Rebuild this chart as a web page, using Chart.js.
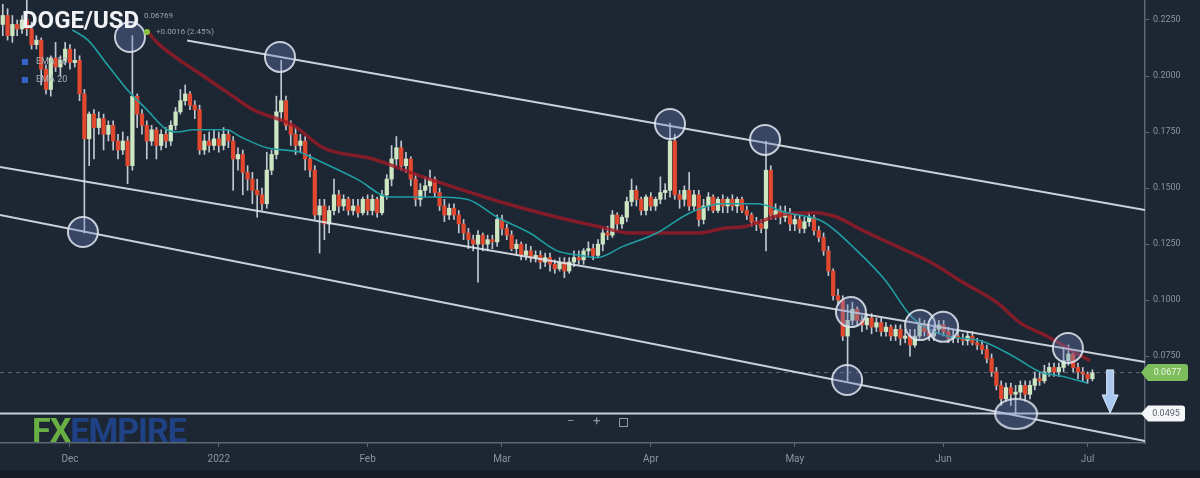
<!DOCTYPE html>
<html>
<head>
<meta charset="utf-8">
<script src="https://cdn.jsdelivr.net/npm/chart.js@4.4.1/dist/chart.umd.min.js"></script>
<style>
html,body{margin:0;padding:0;background:#1d2633;}
#wrap{position:relative;width:1200px;height:478px;overflow:hidden;font-family:Roboto,"Open Sans",sans-serif;}
#chart{position:absolute;left:0;top:0;}
.t{position:absolute;white-space:nowrap;}
</style>
</head>
<body>
<div id="wrap">
  <canvas id="chart" width="1200" height="478"></canvas>
  <div class="t" style="left:22px;top:6px;font-size:24px;font-weight:700;color:#f1f3f6;line-height:28px;">DOGE/USD</div>
  <div class="t" style="left:144px;top:11px;font-size:8px;color:#9aa4ae;">0.06769</div>
  <div class="t" style="left:144px;top:29px;width:6px;height:6px;border-radius:3px;background:#8cc43f;"></div>
  <div class="t" style="left:156px;top:27px;font-size:8px;color:#9aa4ae;">+0.0016 (2.45%)</div>
  <div class="t" style="left:22px;top:59px;width:6px;height:6px;background:#3563c9;"></div>
  <div class="t" style="left:36px;top:56px;font-size:9px;color:#aab2bb;">EMA 50</div>
  <div class="t" style="left:22px;top:77px;width:6px;height:6px;background:#3563c9;"></div>
  <div class="t" style="left:36px;top:74px;font-size:9px;color:#aab2bb;">EMA 20</div>
  <div class="t" style="left:32px;top:412px;font-size:34px;font-weight:700;line-height:36px;letter-spacing:-1px;opacity:0.9;"><span style="color:#72bf46;">FX</span><span style="color:#21468f;">EMPIRE</span></div>
  <div class="t" style="left:567px;top:413px;font-size:13px;color:#8e98a3;">&minus;</div>
  <div class="t" style="left:593px;top:413px;font-size:13px;color:#8e98a3;">+</div>
  <div class="t" style="left:619px;top:418px;width:7px;height:7px;border:1px solid #8e98a3;"></div>
</div>
<script>
// day 0 = 16 Nov 2021, one candle per day up to 2 Jul 2022
const monthLabels = ['Dec', '2022', 'Feb', 'Mar', 'Apr', 'May', 'Jun', 'Jul'];
const monthDays = [15, 46, 77, 105, 136, 166, 197, 227];
const priceTicks = [0.075, 0.1, 0.125, 0.15, 0.175, 0.2, 0.225];

const opens = [
  .229,.223,.227,.218,.223,.221,.225,.221,.214,.216,
  .203,.194,.208,.204,.207,.212,.206,.207,.192,.172,
  .183,.177,.181,.174,.178,.171,.167,.171,.160,.191,
  .183,.178,.171,.176,.169,.174,.171,.178,.184,.189,
  .192,.187,.185,.167,.171,.169,.172,.169,.174,.171,
  .163,.165,.157,.154,.149,.147,.143,.158,.165,.184,
  .189,.178,.174,.169,.171,.163,.158,.138,.142,.134,
  .140,.147,.142,.145,.140,.142,.139,.145,.140,.145,
  .139,.147,.154,.163,.168,.160,.163,.154,.145,.149,
  .151,.154,.148,.142,.138,.141,.138,.134,.130,.127,
  .125,.129,.125,.127,.126,.136,.132,.129,.123,.125,
  .120,.122,.119,.120,.117,.119,.116,.114,.117,.113,
  .117,.119,.118,.122,.123,.120,.125,.130,.129,.138,
  .134,.137,.144,.149,.145,.140,.146,.142,.145,.148,
  .149,.171,.147,.145,.149,.142,.147,.136,.142,.146,
  .140,.145,.142,.145,.142,.145,.140,.138,.135,.134,
  .132,.158,.138,.140,.137,.139,.134,.136,.132,.135,
  .137,.131,.128,.122,.113,.102,.100,.084,.091,.096,
  .091,.089,.092,.088,.090,.086,.088,.084,.087,.083,
  .084,.080,.084,.089,.086,.084,.087,.089,.086,.083,
  .084,.083,.082,.084,.081,.080,.078,.074,.068,.062,
  .056,.061,.058,.059,.062,.058,.062,.065,.064,.068,
  .070,.068,.070,.073,.076,.070,.068,.067,.065
];
const highs = [
  .234,.232,.230,.227,.225,.227,.234,.224,.218,.217,
  .205,.209,.215,.209,.215,.214,.212,.209,.194,.184,
  .185,.184,.183,.180,.180,.174,.175,.173,.218,.192,
  .185,.180,.178,.177,.176,.177,.180,.186,.194,.196,
  .193,.189,.187,.174,.175,.176,.175,.177,.176,.173,
  .168,.167,.160,.157,.154,.150,.166,.167,.191,.207,
  .191,.180,.177,.174,.173,.165,.160,.145,.145,.142,
  .154,.149,.147,.146,.145,.145,.146,.147,.147,.146,
  .149,.156,.169,.173,.171,.166,.164,.156,.152,.155,
  .158,.155,.150,.145,.143,.143,.140,.136,.132,.129,
  .131,.130,.129,.129,.138,.138,.134,.131,.127,.126,
  .125,.124,.122,.122,.121,.121,.118,.119,.119,.119,
  .122,.122,.123,.126,.125,.127,.132,.133,.140,.139,
  .138,.146,.154,.151,.146,.147,.148,.146,.155,.152,
  .179,.174,.149,.151,.157,.149,.149,.145,.148,.147,
  .146,.147,.146,.147,.146,.146,.142,.139,.137,.136,
  .171,.160,.143,.142,.142,.141,.138,.138,.137,.139,
  .138,.133,.130,.124,.114,.105,.102,.098,.099,.097,
  .093,.094,.094,.092,.092,.090,.089,.089,.089,.087,
  .087,.087,.092,.091,.088,.089,.091,.091,.088,.087,
  .087,.085,.086,.086,.083,.082,.080,.076,.070,.064,
  .063,.063,.062,.064,.064,.064,.068,.068,.071,.072,
  .072,.072,.079,.080,.077,.072,.070,.068,.069
];
const lows = [
  .218,.218,.216,.215,.218,.219,.218,.212,.212,.196,
  .192,.191,.202,.200,.205,.203,.204,.189,.130,.160,
  .163,.174,.167,.171,.167,.163,.165,.152,.158,.177,
  .174,.163,.169,.163,.167,.168,.169,.176,.183,.187,
  .185,.181,.165,.165,.166,.167,.166,.167,.168,.149,
  .158,.147,.149,.143,.137,.140,.141,.156,.163,.180,
  .176,.169,.165,.166,.158,.155,.136,.121,.127,.130,
  .138,.139,.140,.138,.138,.137,.138,.138,.138,.137,
  .138,.145,.151,.160,.158,.157,.151,.142,.142,.146,
  .148,.146,.140,.135,.136,.136,.130,.127,.123,.122,
  .108,.122,.122,.123,.124,.129,.127,.122,.120,.118,
  .118,.117,.117,.114,.115,.113,.112,.113,.110,.112,
  .115,.116,.116,.120,.118,.119,.122,.127,.128,.131,
  .132,.135,.142,.142,.138,.138,.140,.140,.143,.145,
  .146,.145,.141,.142,.140,.140,.133,.134,.140,.139,
  .139,.139,.139,.140,.139,.139,.136,.133,.131,.130,
  .122,.136,.136,.134,.135,.131,.131,.130,.130,.133,
  .129,.126,.120,.111,.100,.098,.082,.064,.089,.089,
  .086,.087,.085,.086,.084,.084,.082,.082,.080,.081,
  .075,.079,.083,.084,.082,.082,.085,.084,.081,.081,
  .081,.080,.080,.080,.078,.076,.072,.066,.060,.053,
  .055,.053,.049,.056,.055,.056,.060,.062,.063,.066,
  .066,.066,.068,.071,.068,.065,.064,.063,.064
];
const closes = [
  .223,.227,.218,.223,.221,.225,.221,.214,.216,.203,
  .194,.208,.204,.207,.212,.206,.207,.192,.172,.183,
  .177,.181,.174,.178,.171,.167,.171,.160,.191,.183,
  .178,.171,.176,.169,.174,.171,.178,.184,.189,.192,
  .187,.185,.167,.171,.169,.172,.169,.174,.171,.163,
  .165,.157,.154,.149,.147,.143,.158,.165,.184,.189,
  .178,.174,.169,.171,.163,.158,.138,.142,.134,.140,
  .147,.142,.145,.140,.142,.139,.145,.140,.145,.139,
  .147,.154,.163,.168,.160,.163,.154,.145,.149,.151,
  .154,.148,.142,.138,.141,.138,.134,.130,.127,.125,
  .129,.125,.127,.126,.136,.132,.129,.123,.125,.120,
  .122,.119,.120,.117,.119,.116,.114,.117,.113,.117,
  .119,.118,.122,.123,.120,.125,.130,.129,.138,.134,
  .137,.144,.149,.145,.140,.146,.142,.145,.148,.149,
  .171,.147,.145,.149,.142,.147,.136,.142,.146,.140,
  .145,.142,.145,.142,.145,.140,.138,.135,.134,.132,
  .158,.138,.140,.137,.139,.134,.136,.132,.135,.137,
  .131,.128,.122,.113,.102,.100,.084,.091,.096,.091,
  .089,.092,.088,.090,.086,.088,.084,.087,.083,.084,
  .080,.084,.089,.086,.084,.087,.089,.086,.083,.084,
  .083,.082,.084,.081,.080,.078,.074,.068,.062,.056,
  .061,.058,.059,.062,.058,.062,.065,.064,.068,.070,
  .068,.070,.073,.076,.070,.068,.067,.065,.0677
];

// moving averages (day, price)
const fastMaDays = [15.5,18.75,22.8,26.9,31,35.2,37.3,40.6,47.7,50.4,56,62.9,65,74.8,81.7,90.6,97.7,104,110.8,116.5,121.3,124.8,130.2,137.3,144.2,151,158.1,164.4,171.9,179,184.8,190.6,197.7,204.6,211.5,217.1,221.9,226.9];
const fastMaValues = [.2205,.216,.205,.194,.185,.176,.175,.176,.176,.173,.168,.166,.164,.154,.146,.146,.145,.137,.130,.122,.120,.119,.124,.130,.139,.143,.143,.139,.135,.122,.109,.092,.084,.082,.075,.068,.066,.063];
const slowMaDays = [31.5,33.1,37.9,42.1,48.9,53.1,61.5,67.7,78.1,88.5,95.6,106,116.5,124.8,131.7,140.6,146.2,151,155.9,163,170,174.8,180.2,187.3,194.2,201,208.1,212.9,218.5,223.3,227.5];
const slowMaValues = [.219,.215,.207,.201,.191,.185,.178,.168,.163,.155,.150,.143,.137,.133,.130,.130,.130,.132,.133,.138,.139,.137,.131,.124,.117,.108,.099,.090,.084,.078,.073];

// channel lines
const upperLineDays = [39.4, 238.96];
const upperLineValues = [0.2158, 0.1402];
const middleLineDays = [0.42, 238.96];
const middleLineValues = [0.1594, 0.0724];
const lowerLineDays = [0.42, 238.96];
const lowerLineValues = [0.1380, 0.0372];

const priceNow = 0.0677;
const supportLevel = 0.0495;

// touches marked with circles
const circleDays = [27.5, 58.75, 17.7, 140, 159.8, 177.7, 192.1, 196.9, 176.9, 222.9];
const circleValues = [0.2174, 0.2085, 0.1304, 0.1786, 0.1715, 0.0947, 0.0889, 0.0881, 0.0644, 0.0787];
const lowMarkDays = [212.1];
const lowMarkValues = [0.0493];

const arrowDay = 231.7;
const arrowTop = 0.0689;
const arrowBottom = 0.0497;

const xMin = 0.42, xMax = 238.96;
const yMin = 0.0363, yMax = 0.2339;

const bull = '#cde7c2';
const bear = '#e2482e';
const isBull = i => closes[i] >= opens[i];

const pts = (days, vals) => days.map((d, i) => ({x: d, y: vals[i]}));

// ellipse marker for the june low
const ell = document.createElement('canvas');
ell.width = 46; ell.height = 34;
(function(){
  const c = ell.getContext('2d');
  c.beginPath();
  c.ellipse(23, 17, 21, 15, 0, 0, Math.PI * 2);
  c.fillStyle = 'rgba(110,130,190,0.35)';
  c.fill();
  c.lineWidth = 2;
  c.strokeStyle = 'rgba(225,232,242,0.85)';
  c.stroke();
})();

const bgPlugin = {
  id: 'bg',
  beforeDraw(chart){
    const c = chart.ctx;
    c.save();
    c.fillStyle = '#1d2633';
    c.fillRect(0, 0, chart.width, chart.height);
    c.fillStyle = '#171e28';
    c.fillRect(0, 470, chart.width, 8);
    c.restore();
  }
};

function badge(c, x, y, w, h, fill, textColor, text){
  c.beginPath();
  c.moveTo(x, y);
  c.lineTo(x + 7, y - h / 2);
  c.lineTo(x + w - 3, y - h / 2);
  c.quadraticCurveTo(x + w, y - h / 2, x + w, y - h / 2 + 3);
  c.lineTo(x + w, y + h / 2 - 3);
  c.quadraticCurveTo(x + w, y + h / 2, x + w - 3, y + h / 2);
  c.lineTo(x + 7, y + h / 2);
  c.closePath();
  c.fillStyle = fill;
  c.fill();
  c.fillStyle = textColor;
  c.font = '9px Roboto, sans-serif';
  c.textAlign = 'center';
  c.textBaseline = 'middle';
  c.fillText(text, x + w / 2 + 3, y + 0.5);
}

const markPlugin = {
  id: 'marks',
  afterDraw(chart){
    const c = chart.ctx;
    const xs = chart.scales.x, ys = chart.scales.y;
    // arrow
    const ax = xs.getPixelForValue(arrowDay);
    const at = ys.getPixelForValue(arrowTop);
    const ab = ys.getPixelForValue(arrowBottom);
    const headTop = ab - 18;
    c.save();
    c.fillStyle = '#a9c7ef';
    c.strokeStyle = '#dbe8fa';
    c.lineWidth = 1;
    c.beginPath();
    c.moveTo(ax - 3.5, at);
    c.lineTo(ax + 3.5, at);
    c.lineTo(ax + 3.5, headTop);
    c.lineTo(ax + 8, headTop);
    c.lineTo(ax, ab);
    c.lineTo(ax - 8, headTop);
    c.lineTo(ax - 3.5, headTop);
    c.closePath();
    c.fill();
    c.stroke();
    // price badges on the axis
    const right = chart.chartArea.right;
    badge(c, right - 4, ys.getPixelForValue(priceNow), 47, 17, '#7dbd5c', '#e9f5e2', priceNow.toFixed(4));
    badge(c, right - 4, ys.getPixelForValue(supportLevel), 44, 16, '#f4f6f8', '#59636e', supportLevel.toFixed(4));
    c.restore();
  }
};

const lineStyle = {type: 'line', pointRadius: 0, fill: false, borderJoinStyle: 'round'};

new Chart(document.getElementById('chart'), {
  type: 'bar',
  data: {
    datasets: [
      {
        label: 'wicks',
        data: highs.map((h, i) => ({x: i, y: [lows[i], h]})),
        backgroundColor: '#bfc8d1',
        barThickness: 1,
        grouped: false,
        order: 10
      },
      {
        label: 'bodies',
        data: opens.map((o, i) => ({x: i, y: [o, closes[i]]})),
        backgroundColor: ctx => isBull(ctx.dataIndex) ? bull : bear,
        barThickness: 3.6,
        minBarLength: 1,
        grouped: false,
        order: 9
      },
      Object.assign({}, lineStyle, {
        label: 'slow',
        data: pts(slowMaDays, slowMaValues),
        borderColor: 'rgba(160,26,38,0.78)',
        borderWidth: 3.5,
        cubicInterpolationMode: 'monotone',
        order: 8
      }),
      Object.assign({}, lineStyle, {
        label: 'fast',
        data: pts(fastMaDays, fastMaValues),
        borderColor: '#1f9fa3',
        borderWidth: 1.6,
        cubicInterpolationMode: 'monotone',
        order: 7
      }),
      Object.assign({}, lineStyle, {
        label: 'now',
        data: pts([xMin, xMax], [priceNow, priceNow]),
        borderColor: 'rgba(150,160,172,0.55)',
        borderWidth: 1,
        borderDash: [4, 4],
        order: 6
      }),
      Object.assign({}, lineStyle, {
        label: 'upper',
        data: pts(upperLineDays, upperLineValues),
        borderColor: 'rgba(222,227,234,0.9)',
        borderWidth: 2,
        order: 5
      }),
      Object.assign({}, lineStyle, {
        label: 'middle',
        data: pts(middleLineDays, middleLineValues),
        borderColor: 'rgba(222,227,234,0.9)',
        borderWidth: 2,
        order: 5
      }),
      Object.assign({}, lineStyle, {
        label: 'lower',
        data: pts(lowerLineDays, lowerLineValues),
        borderColor: 'rgba(222,227,234,0.9)',
        borderWidth: 2,
        order: 5
      }),
      Object.assign({}, lineStyle, {
        label: 'support',
        data: pts([xMin, xMax], [supportLevel, supportLevel]),
        borderColor: 'rgba(222,227,234,0.9)',
        borderWidth: 2,
        order: 5
      }),
      {
        type: 'scatter',
        label: 'touches',
        data: pts(circleDays, circleValues),
        pointRadius: 15,
        pointBackgroundColor: 'rgba(110,130,190,0.35)',
        pointBorderColor: 'rgba(225,232,242,0.85)',
        pointBorderWidth: 2,
        order: 1
      },
      {
        type: 'scatter',
        label: 'low',
        data: pts(lowMarkDays, lowMarkValues),
        pointStyle: ell,
        order: 1
      }
    ]
  },
  options: {
    responsive: false,
    animation: false,
    layout: {padding: 0, autoPadding: false},
    plugins: {legend: {display: false}, tooltip: {enabled: false}},
    scales: {
      x: {
        type: 'linear',
        offset: false,
        min: xMin,
        max: xMax,
        afterFit: s => { s.height = 35; s.paddingLeft = 0; s.paddingRight = 0; },
        afterBuildTicks: s => { s.ticks = monthDays.map(v => ({value: v})); },
        grid: {display: true, offset: false, drawOnChartArea: false, tickLength: 4, color: '#5d6773'},
        border: {display: true, color: '#5d6773', width: 1.5},
        ticks: {
          color: '#8b95a1',
          font: {size: 10, family: 'Roboto, sans-serif'},
          padding: 6,
          maxRotation: 0,
          autoSkip: false,
          callback: v => monthLabels[monthDays.indexOf(v)]
        }
      },
      y: {
        position: 'right',
        min: yMin,
        max: yMax,
        afterFit: s => { s.width = 55; s.paddingTop = 0; s.paddingBottom = 0; },
        afterBuildTicks: s => { s.ticks = priceTicks.map(v => ({value: v})); },
        grid: {display: true, drawOnChartArea: false, tickLength: 4, color: '#5d6773'},
        border: {display: true, color: '#5d6773', width: 1.5},
        ticks: {
          color: '#8a949f',
          font: {size: 9, family: 'Roboto, sans-serif'},
          padding: 4,
          callback: v => v.toFixed(4)
        }
      }
    }
  },
  plugins: [bgPlugin, markPlugin]
});
</script>
</body>
</html>
